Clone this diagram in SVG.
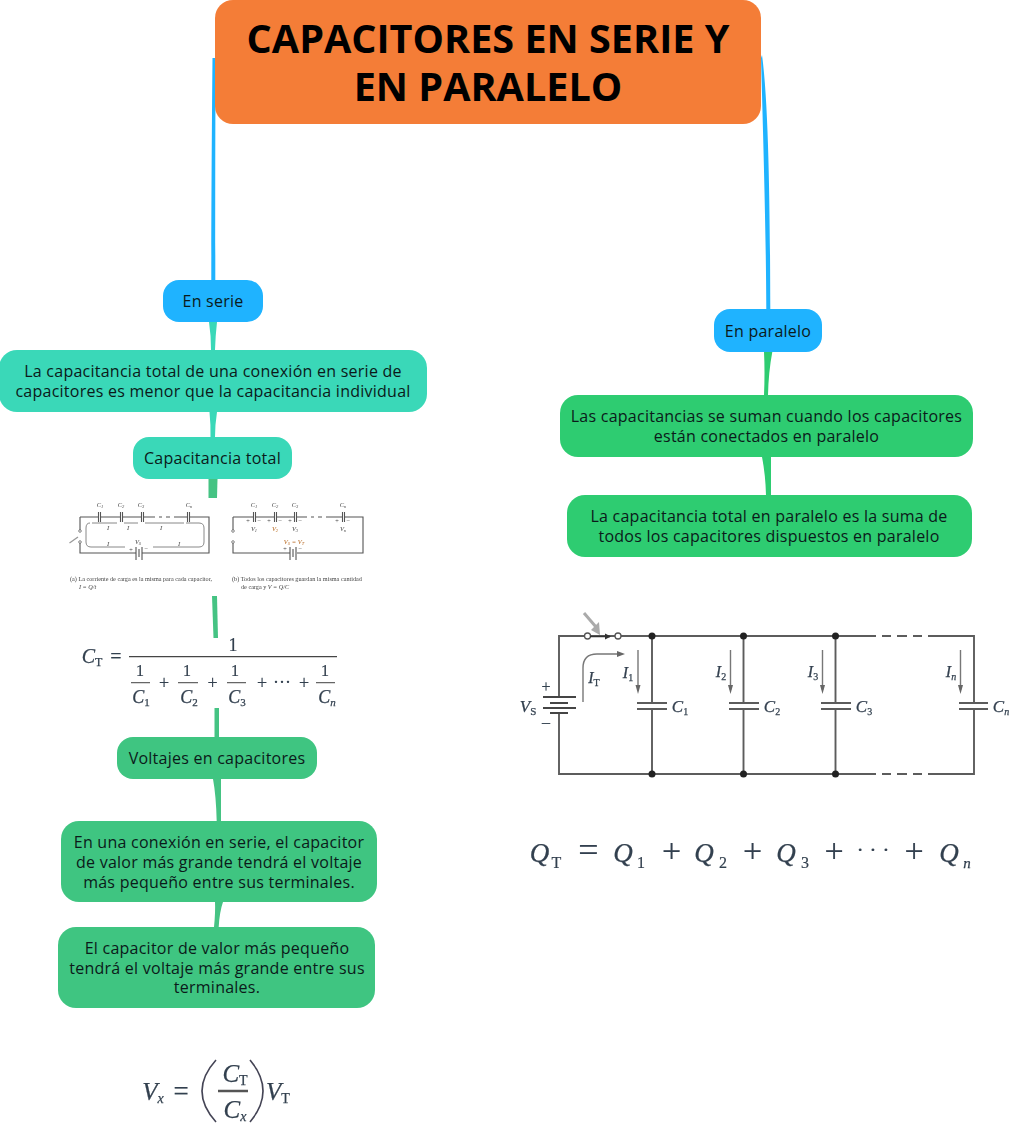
<svg xmlns="http://www.w3.org/2000/svg" width="1021" height="1134" viewBox="0 0 1021 1134">
<defs>
<filter id="b1" x="-5%" y="-5%" width="110%" height="110%"><feGaussianBlur stdDeviation="0.45"/></filter>
<filter id="b2" x="-5%" y="-5%" width="110%" height="110%"><feGaussianBlur stdDeviation="0.55"/></filter>
</defs>
<style>
text{font-family:"Open Sans","Noto Sans","Liberation Sans",sans-serif;fill:#0b1a1a;text-anchor:middle}
.n text{font-size:16px;font-weight:500;letter-spacing:.25px}
.title{font-size:39.6px;font-weight:700;fill:#000}
.m{font-family:"Liberation Serif",serif;fill:#33404f;font-style:italic;stroke:#33404f;stroke-width:.25}
.r{font-family:"Liberation Serif",serif;fill:#33404f;stroke:#33404f;stroke-width:.2}
.s{font-family:"Liberation Serif",serif;fill:#444;font-style:italic;font-size:6.5px}
.o{fill:#b5651d}
.sm{font-family:"Liberation Serif",serif;fill:#444;font-size:6.2px;text-anchor:start}
.w{fill:none;stroke:#555;stroke-width:1.1}
.W{fill:none;stroke:#5c5c5c;stroke-width:1.9}
.a{fill:none;stroke:#888;stroke-width:1}
.c{fill:#fff;stroke:#555;stroke-width:.7}
.d{fill:#222}
</style>
<g id="connectors">
<path fill="#1fb3ff" d="M212.500 58C212 110 211.300 200 211.300 280L215.300 280C215.300 200 215.300 110 215.700 58Z"/>
<path fill="#1fb3ff" d="M761 58C763 130 766 230 766.300 309L770.300 309C770 230 769.500 110 762 55Z"/>
<path fill="#3ad8b8" d="M209 322L217 322Q215.500 335 215 350L211 350Q211 335 209 322Z"/>
<path fill="#3ad8b8" d="M209.500 412L217 412Q215 425 215 437L210.500 437Q210.800 425 209.500 412Z"/>
<path fill="#45c383" d="M208.500 479L217.500 479L217 498L208.500 498Z"/>
<path fill="#45c383" d="M212 596L217 596L218 638L213.500 638Z"/>
<path fill="#45c383" d="M214.500 708L219 708L219 737L214.500 737Z"/>
<path fill="#45c383" d="M213 779L221 779L221 821L216.700 821Q216 795 213 779Z"/>
<path fill="#45c383" d="M215 902L223 902Q219.500 912 218.700 927L214 927Q215.500 912 215 902Z"/>
<path fill="#2ecc71" d="M764 352L772.300 352Q768.500 372 768 395L764 395Q765 372 764 352Z"/>
<path fill="#2ecc71" d="M762 457L771 457L771 495L766 495Q765.500 475 762 457Z"/>
</g>
<g id="node-title"><rect x="215" y="0" width="546" height="124" rx="18" fill="#f47d37"/><text class="title" x="488" y="52.500">CAPACITORES EN SERIE Y</text><text class="title" x="488" y="100.500">EN PARALELO</text></g>
<g id="node-serie" class="n"><rect x="163" y="280" width="100" height="42" rx="16" fill="#1fb3ff"/><text x="213" y="306.500">En serie</text></g>
<g id="node-paralelo" class="n"><rect x="714" y="309" width="108" height="43" rx="16" fill="#1fb3ff"/><text x="768" y="336.500">En paralelo</text></g>
<g id="node-menor" class="n"><rect x="-1" y="350" width="428" height="62" rx="18" fill="#3ad8b8"/><text x="213" y="376.500">La capacitancia total de una conexión en serie de</text><text x="213" y="396.500">capacitores es menor que la capacitancia individual</text></g>
<g id="node-total" class="n"><rect x="133" y="437" width="159" height="42" rx="16" fill="#3ad8b8"/><text x="212.500" y="463.500">Capacitancia total</text></g>
<g id="node-voltajes" class="n"><rect x="117" y="737" width="200" height="42" rx="16" fill="#3fc581"/><text x="217" y="763.500">Voltajes en capacitores</text></g>
<g id="node-grande" class="n"><rect x="61" y="821" width="316" height="81" rx="18" fill="#3fc581"/><text x="219" y="847.500">En una conexión en serie, el capacitor</text><text x="219" y="867.500">de valor más grande tendrá el voltaje</text><text x="219" y="887.500">más pequeño entre sus terminales.</text></g>
<g id="node-pequeno" class="n"><rect x="58" y="927" width="317" height="81" rx="18" fill="#3fc581"/><text x="217" y="953.500">El capacitor de valor más pequeño</text><text x="217" y="973.500">tendrá el voltaje más grande entre sus</text><text x="217" y="992.500">terminales.</text></g>
<g id="node-suman" class="n"><rect x="560" y="395" width="413" height="62" rx="18" fill="#2ecc71"/><text x="766.500" y="421.500">Las capacitancias se suman cuando los capacitores</text><text x="766.500" y="441.500">están conectados en paralelo</text></g>
<g id="node-suma" class="n"><rect x="567" y="495" width="405" height="62" rx="18" fill="#2ecc71"/><text x="769" y="521.500">La capacitancia total en paralelo es la suma de</text><text x="769" y="541.500">todos los capacitores dispuestos en paralelo</text></g>

<g id="serie-circuits" filter="url(#b1)">
<path class="w" d="M80 517H98M100.500 517H120M122.500 517H141M143.500 517H155M159 517H162M166 517H170M174 517H187M189.500 517H209V553H142M136 553H80V542M80 531V517"/>
<path class="w" d="M98.500 512V522M100.500 512V522M120.500 512V522M122.500 512V522M141.500 512V522M143.500 512V522M187.500 512V522M189.500 512V522M136 547V560M139 549V557M142 547V560"/>
<path class="a" d="M90 523Q86 523 86 528V542Q86 547 91 547H125M153 547H199Q204 547 204 542V528Q204 523 199 523H186M92 523H117M124 523H138M145 523H184"/>
<path d="M69.500 543L78 537" stroke="#999" stroke-width="1.300" fill="none"/>
<circle class="c" cx="80" cy="531" r="1.300"/><circle class="c" cx="80" cy="542" r="1.300"/>
<text class="s" x="100" y="507">C<tspan font-size="4.500" dy="1">1</tspan></text><text class="s" x="121" y="507">C<tspan font-size="4.500" dy="1">2</tspan></text><text class="s" x="141" y="507">C<tspan font-size="4.500" dy="1">3</tspan></text><text class="s" x="189" y="507">C<tspan font-size="4.500" dy="1">n</tspan></text>
<text class="s" x="108" y="530">I</text><text class="s" x="128" y="530">I</text><text class="s" x="161" y="530">I</text><text class="s" x="108" y="546">I</text><text class="s" x="179" y="546">I</text>
<text class="s" x="138" y="544">V<tspan font-size="4.500" dy="1">S</tspan></text><text class="s" x="131" y="552" font-style="normal">+</text><text class="s" x="146" y="551" font-style="normal">−</text>
<text class="sm" x="70" y="581">(a) La corriente de carga es la misma para cada capacitor,</text>
<text class="sm" x="79" y="589" font-style="italic">I = Q/t</text>
<path class="w" d="M233 517H253M255.500 517H274M276.500 517H294M296.500 517H307M311 517H314M318 517H322M326 517H342M344.500 517H363V553H297M290 553H233V542M233 531V517"/>
<path class="w" d="M253.500 512V522M255.500 512V522M274.500 512V522M276.500 512V522M294.500 512V522M296.500 512V522M342.500 512V522M344.500 512V522M290 547V560M293 549V557M296 547V560"/>
<circle class="c" cx="233" cy="531" r="1.300"/><circle class="c" cx="233" cy="542" r="1.300"/>
<text class="s" x="254" y="507">C<tspan font-size="4.500" dy="1">1</tspan></text><text class="s" x="275" y="507">C<tspan font-size="4.500" dy="1">2</tspan></text><text class="s" x="295" y="507">C<tspan font-size="4.500" dy="1">3</tspan></text><text class="s" x="343" y="507">C<tspan font-size="4.500" dy="1">n</tspan></text>
<text class="s" x="254" y="531">V<tspan font-size="4.500" dy="1">1</tspan></text><text class="s o" x="275" y="531">V<tspan font-size="4.500" dy="1">2</tspan></text><text class="s" x="295" y="531">V<tspan font-size="4.500" dy="1">3</tspan></text><text class="s" x="343" y="531">V<tspan font-size="4.500" dy="1">n</tspan></text>
<g class="plusminus"><text class="s" x="248" y="523" font-style="normal">+</text><text class="s" x="259" y="523" font-style="normal">−</text><text class="s" x="269" y="523" font-style="normal">+</text><text class="s" x="280" y="523" font-style="normal">−</text><text class="s" x="290" y="523" font-style="normal">+</text><text class="s" x="300" y="523" font-style="normal">−</text><text class="s" x="337" y="523" font-style="normal">+</text><text class="s" x="348" y="523" font-style="normal">−</text><text class="s" x="285" y="551" font-style="normal">+</text><text class="s" x="300" y="551" font-style="normal">−</text></g>
<text class="s o" x="294" y="544">V<tspan font-size="4.500" dy="1">S</tspan><tspan dy="-1"> = V</tspan><tspan font-size="4.500" dy="1">T</tspan></text>
<text class="sm" x="232" y="581">(b) Todos los capacitores guardan la misma cantidad</text>
<text class="sm" x="241" y="589">de carga y <tspan font-style="italic">V = Q/C</tspan></text>
</g>

<g id="formula-ct" filter="url(#b1)">
<text class="m" font-size="20" x="92" y="663">C<tspan font-size="12" dy="3" font-style="normal">T</tspan></text>
<text class="r" font-size="20" x="116" y="663">=</text>
<path d="M129 656.700H337" stroke="#444" stroke-width="1.300"/>
<path d="M131 682.700H150M178 682.700H198M227 682.700H246M316 682.700H335" stroke="#666" stroke-width="1.200"/>
<text class="r" font-size="18" x="233" y="651">1</text>
<text class="r" font-size="16" x="140" y="676">1</text><text class="r" font-size="16" x="187" y="676">1</text><text class="r" font-size="16" x="235" y="676">1</text><text class="r" font-size="16" x="325" y="676">1</text>
<text class="m" font-size="18" x="141" y="703">C<tspan font-size="11" dy="3" font-style="normal">1</tspan></text><text class="m" font-size="18" x="189" y="703">C<tspan font-size="11" dy="3" font-style="normal">2</tspan></text><text class="m" font-size="18" x="237" y="703">C<tspan font-size="11" dy="3" font-style="normal">3</tspan></text><text class="m" font-size="18" x="327" y="703">C<tspan font-size="11" dy="3">n</tspan></text>
<text class="r" font-size="18" x="164" y="689">+</text><text class="r" font-size="18" x="212.500" y="689">+</text><text class="r" font-size="18" x="262" y="689">+</text><text class="r" font-size="18" x="282" y="688">···</text><text class="r" font-size="18" x="304" y="689">+</text>
</g>

<g id="circuit-paralelo" filter="url(#b2)">
<path class="W" d="M559 697V636H585M591 636H615M621 636H876M882 636H891M897 636H907M913 636H922M928 636H974V703M974 709V774H928M922 774H913M907 774H897M891 774H882M876 774H559V713"/>
<path class="W" d="M652 636V703M652 709V774M743.500 636V703M743.500 709V774M835.500 636V703M835.500 709V774"/>
<path class="W" d="M637 703H667M637 709H667M729 703H759M729 709H759M821 703H851M821 709H851M959 703H988M959 709H988"/>
<path d="M543 697H576M550 703H568M543 708H576M550 713H568" fill="none" stroke="#444" stroke-width="2.200"/>
<circle cx="587.500" cy="636" r="3" fill="#fff" stroke="#555" stroke-width="1.300"/><circle cx="618" cy="636" r="3" fill="#fff" stroke="#555" stroke-width="1.300"/>
<path d="M590 636.500H610" stroke="#333" stroke-width="1.500"/><path d="M605 633.500L611 636.500L605 639.500Z" fill="#333"/>
<path d="M584 613L596 627" stroke="#aaa" stroke-width="3" fill="none"/><path d="M600 635L591 630L599 622Z" fill="#aaa"/>
<circle class="d" cx="652" cy="636" r="3.500"/><circle class="d" cx="743.500" cy="636" r="3.500"/><circle class="d" cx="835.500" cy="636" r="3.500"/>
<circle class="d" cx="652" cy="774" r="3.500"/><circle class="d" cx="743.500" cy="774" r="3.500"/><circle class="d" cx="835.500" cy="774" r="3.500"/>
<path d="M583 702V668Q583 654 597 654H620M638 650V690M730.500 650V690M822.500 650V690M960.500 650V690" fill="none" stroke="#777" stroke-width="1.400"/>
<path d="M617 651L625 654L617 657ZM635.500 685L638 694L640.500 685ZM728 685L730.500 694L733 685ZM820 685L822.500 694L825 685ZM958 685L960.500 694L963 685Z" fill="#666"/>
<text class="r" font-size="16" x="546" y="692">+</text><text class="r" font-size="16" x="546" y="727">–</text>
<text class="m" font-size="17" x="528" y="712">V<tspan font-size="11" dy="3" font-style="normal">S</tspan></text>
<text class="m" font-size="16" x="594" y="683">I<tspan font-size="10" dy="3" font-style="normal">T</tspan></text>
<text class="m" font-size="16" x="628" y="678">I<tspan font-size="10" dy="3" font-style="normal">1</tspan></text>
<text class="m" font-size="16" x="721" y="677">I<tspan font-size="10" dy="3" font-style="normal">2</tspan></text>
<text class="m" font-size="16" x="813" y="677">I<tspan font-size="10" dy="3" font-style="normal">3</tspan></text>
<text class="m" font-size="16" x="951" y="677">I<tspan font-size="10" dy="3">n</tspan></text>
<text class="m" font-size="17" x="680" y="712">C<tspan font-size="10" dy="3" font-style="normal">1</tspan></text>
<text class="m" font-size="17" x="772" y="712">C<tspan font-size="10" dy="3" font-style="normal">2</tspan></text>
<text class="m" font-size="17" x="864" y="712">C<tspan font-size="10" dy="3" font-style="normal">3</tspan></text>
<text class="m" font-size="17" x="1001" y="712">C<tspan font-size="10" dy="3">n</tspan></text>
</g>

<g id="formula-qt" filter="url(#b2)">
<text class="m" font-size="27" x="539.500" y="862">Q</text><text class="r" font-size="16" x="556.500" y="868">T</text>
<text class="r" font-size="36" x="588.500" y="862">=</text>
<text class="m" font-size="27" x="623" y="862">Q</text><text class="r" font-size="16" x="641" y="868">1</text>
<text class="r" font-size="34" x="671.500" y="862">+</text>
<text class="m" font-size="27" x="704" y="862">Q</text><text class="r" font-size="16" x="723" y="868">2</text>
<text class="r" font-size="34" x="752.500" y="862">+</text>
<text class="m" font-size="27" x="786" y="862">Q</text><text class="r" font-size="16" x="805" y="868">3</text>
<text class="r" font-size="34" x="834" y="862">+</text>
<text class="r" font-size="22" x="873" y="857">· · ·</text>
<text class="r" font-size="34" x="914" y="862">+</text>
<text class="m" font-size="27" x="949" y="862">Q</text><text class="m" font-size="15" x="967" y="868">n</text>
</g>

<g id="formula-vx" filter="url(#b2)">
<text class="m" font-size="25" x="153" y="1100">V<tspan font-size="14" dy="3">x</tspan></text>
<text class="r" font-size="27" x="181" y="1100">=</text>
<path d="M216 1060Q188 1091 216 1122M250 1060Q276 1091 250 1122" fill="none" stroke="#445" stroke-width="1.600"/>
<path d="M218 1091H248" stroke="#555" stroke-width="2.500"/>
<text class="m" font-size="25" x="235" y="1082">C<tspan font-size="14" dy="3" font-style="normal">T</tspan></text>
<text class="m" font-size="25" x="235" y="1118">C<tspan font-size="14" dy="3">x</tspan></text>
<text class="m" font-size="25" x="278" y="1100">V<tspan font-size="14" dy="3" font-style="normal">T</tspan></text>
</g>
</svg>
